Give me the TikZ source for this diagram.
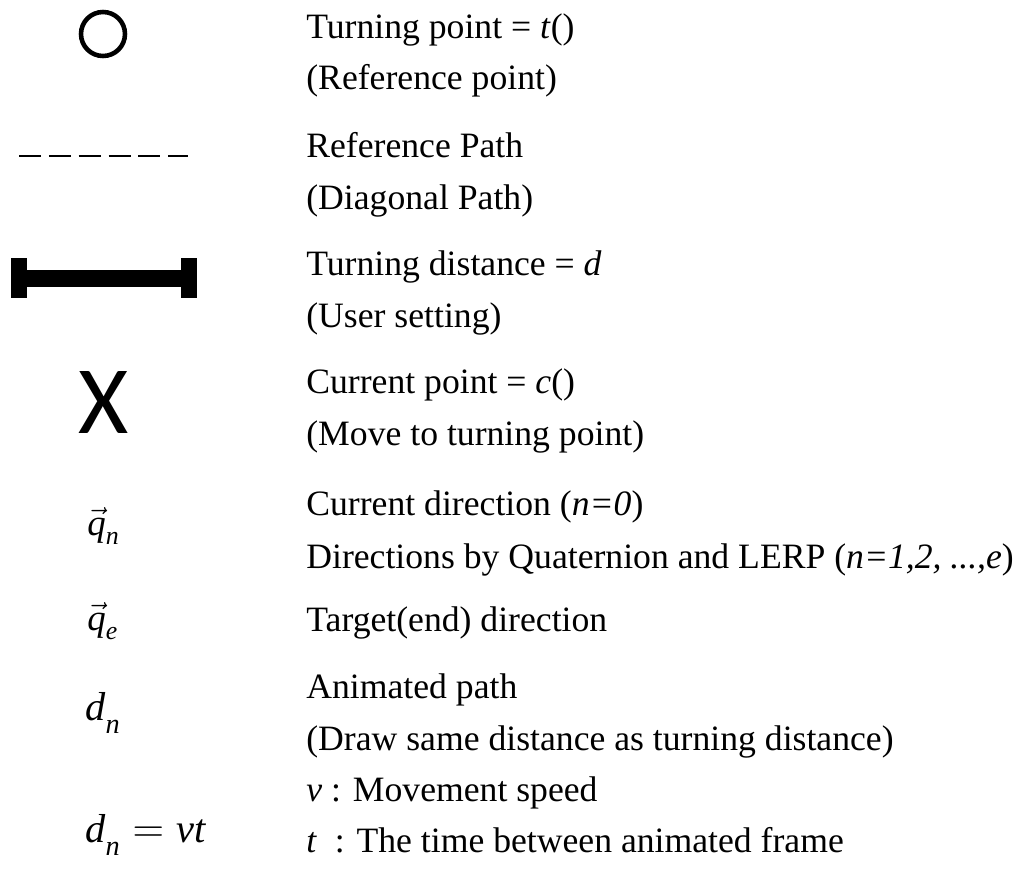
\documentclass[tikz,border=0pt]{standalone}
\usepackage{amsmath}
\usepackage{fontspec}
\setmainfont{Liberation Serif}
\newfontfamily\crossfont{Carlito}
\usetikzlibrary{positioning}

\newcommand{\lowsub}[1]{\raisebox{-4pt}{$\scriptstyle\textit{#1}$}}

\begin{document}
\begin{tikzpicture}[
    x=0.02cm, y=-0.02cm,
    desc/.style={anchor=base west, inner sep=0pt, font=\fontsize{20.3}{24}\selectfont},
    symb/.style={anchor=base west, inner sep=0pt, font=\fontsize{23}{27}\selectfont}
]
\useasboundingbox (0,0) rectangle (1022,872);
% symbols
\draw[line width=2.6pt] (103,34) circle[radius=22];
\draw[line width=1.5pt, dash pattern=on 12.5pt off 4.5pt] (19,156) -- (188,156);
\fill (11,258) rectangle (27,298);
\fill (181,258) rectangle (197,298);
\fill (27,270) rectangle (181,287);
\node[inner sep=0pt, font=\crossfont\fontsize{55}{60}\selectfont] (cross) at (104,402) {X};
\node[symb, font=\fontsize{21}{25}\selectfont] (qn) at (87,535) {$\vec{\textit{q}}_{\textit{n}}$};
\node[symb, font=\fontsize{21}{25}\selectfont] (qe) at (87,630) {$\vec{\textit{q}}_{\textit{e}}$};
\node[symb] (dn) at (85,720) {$\textit{d}_{\lowsub{n}}$};
\node[symb] (dnvt) at (85,842) {$\textit{d}_{\lowsub{n}} = \textit{vt}$};
% descriptions
\node[desc] (tp) at (306,38) {Turning point = \textit{t}()};
\node[desc] (tpsub) at (306,90) {(Reference point)};
\node[desc] (rp) at (306,157) {Reference Path};
\node[desc] (rpsub) at (306,209) {(Diagonal Path)};
\node[desc] (td) at (306,275) {Turning distance = \textit{d}};
\node[desc] (tdsub) at (306,327) {(User setting)};
\node[desc] (cp) at (306,393) {Current point = \textit{c}()};
\node[desc] (cpsub) at (306,445) {(Move to turning point)};
\node[desc] (cd) at (306,515) {Current direction (\textit{n=0})};
\node[desc] (cdsub) at (306,568) {Directions by Quaternion and LERP (\textit{n=1,2, ...,e})};
\node[desc] (ted) at (306,631) {Target(end) direction};
\node[desc] (ap) at (306,698) {Animated path};
\node[desc] (apsub) at (306,750) {(Draw same distance as turning distance)};
\node[desc] (spd) at (306,801) {\textit{v} : Movement speed};
\node[desc] (tim) at (306,852) {\textit{t}\ \ : The time between animated frame};
\end{tikzpicture}
\end{document}
